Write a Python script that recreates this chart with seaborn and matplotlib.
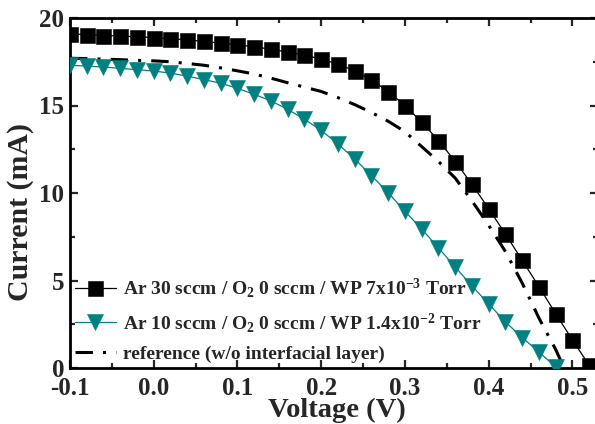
import numpy as np
import pandas as pd
import matplotlib
matplotlib.use("Agg")
import matplotlib.pyplot as plt
from matplotlib.ticker import MultipleLocator, FormatStrFormatter
import seaborn as sns

# Bias voltage (V)
v_ar30 = [-0.10, -0.08, -0.06, -0.04, -0.02, 0.00, 0.02, 0.04, 0.06, 0.08,
          0.10, 0.12, 0.14, 0.16, 0.18, 0.20, 0.22, 0.24, 0.26, 0.28,
          0.30, 0.32, 0.34, 0.36, 0.38, 0.40, 0.42, 0.44, 0.46, 0.48,
          0.50, 0.52]
i_ar30 = [19.10, 19.05, 19.00, 18.97, 18.93, 18.88, 18.82, 18.75, 18.66, 18.57,
          18.47, 18.35, 18.22, 18.05, 17.88, 17.65, 17.37, 16.98, 16.45, 15.80,
          15.00, 14.05, 13.00, 11.80, 10.50, 9.10, 7.65, 6.15, 4.65, 3.10,
          1.60, 0.15]

v_ar10 = [-0.10, -0.08, -0.06, -0.04, -0.02, 0.00, 0.02, 0.04, 0.06, 0.08,
          0.10, 0.12, 0.14, 0.16, 0.18, 0.20, 0.22, 0.24, 0.26, 0.28,
          0.30, 0.32, 0.34, 0.36, 0.38, 0.40, 0.42, 0.44, 0.46, 0.48]
i_ar10 = [17.30, 17.25, 17.20, 17.12, 17.05, 16.97, 16.85, 16.68, 16.48, 16.27,
          15.98, 15.64, 15.26, 14.78, 14.21, 13.58, 12.80, 11.94, 10.99, 10.02,
          8.95, 7.94, 6.86, 5.77, 4.69, 3.66, 2.63, 1.74, 0.91, 0.06]

v_ref = [-0.10, -0.08, -0.06, -0.04, -0.02, 0.00, 0.02, 0.04, 0.06, 0.08,
         0.10, 0.12, 0.14, 0.16, 0.18, 0.20, 0.22, 0.24, 0.26, 0.28,
         0.30, 0.32, 0.34, 0.36, 0.38, 0.40, 0.42, 0.44, 0.46, 0.48, 0.49]
i_ref = [17.70, 17.68, 17.65, 17.62, 17.58, 17.55, 17.50, 17.40, 17.30, 17.15,
         16.98, 16.80, 16.56, 16.30, 16.05, 15.80, 15.45, 15.05, 14.60, 14.10,
         13.50, 12.65, 11.80, 10.85, 9.55, 8.15, 6.65, 4.85, 2.85, 1.05, 0.00]

labels = [
    "Ar 30 sccm / O$_2$ 0 sccm / WP 7x10$^{-3}$ Torr",
    "Ar 10 sccm / O$_2$ 0 sccm / WP 1.4x10$^{-2}$ Torr",
    "reference (w/o interfacial layer)",
]

TEAL = "#008080"

sns.set_theme(style="ticks")
plt.rcParams.update({
    "font.family": ["Liberation Serif", "DejaVu Serif"],
    "font.weight": "bold",
    "axes.labelweight": "bold",
    "mathtext.fontset": "custom",
    "mathtext.rm": "Liberation Serif:bold",
    "mathtext.it": "Liberation Serif:italic:bold",
    "mathtext.bf": "Liberation Serif:bold",
    "axes.unicode_minus": False,
})

df30 = pd.DataFrame({"V": v_ar30, "I": i_ar30})
df10 = pd.DataFrame({"V": v_ar10, "I": i_ar10})
dfref = pd.DataFrame({"V": v_ref, "I": i_ref})

fig = plt.figure(figsize=(5.95, 4.24), dpi=100)
ax = fig.add_axes([70 / 595, (424 - 368) / 424, 527.6 / 595, 350 / 424])

sns.lineplot(data=df30, x="V", y="I", ax=ax, color="black", linewidth=0.9,
             marker="s", markersize=10.8, markeredgecolor="black",
             markeredgewidth=0.4, label=labels[0], zorder=3)
sns.lineplot(data=df10, x="V", y="I", ax=ax, color=TEAL, linewidth=0.9,
             marker="v", markersize=12, markeredgecolor=TEAL,
             markeredgewidth=0.4, label=labels[1], zorder=3)
sns.lineplot(data=dfref, x="V", y="I", ax=ax, color="black", linewidth=2.2,
             label=labels[2], zorder=2)
ax.lines[-1].set_dashes((5.7, 3.3, 1.0, 3.3))

ax.set_xlim(-0.1, 0.53)
ax.set_ylim(0, 20)
ax.xaxis.set_major_locator(MultipleLocator(0.1))
ax.xaxis.set_minor_locator(MultipleLocator(0.05))
ax.xaxis.set_major_formatter(FormatStrFormatter("%.1f"))
ax.yaxis.set_major_locator(MultipleLocator(5))
ax.yaxis.set_minor_locator(MultipleLocator(2.5))

ax.tick_params(which="both", direction="in", top=True, right=True,
               labelsize=18, width=1.6)
ax.tick_params(axis="x", pad=6.5)
ax.tick_params(axis="y", pad=4)
ax.tick_params(which="major", length=6)
ax.tick_params(which="minor", length=3.5)
for lab in ax.get_xticklabels() + ax.get_yticklabels():
    lab.set_fontweight("bold")
for sp in ax.spines.values():
    sp.set_linewidth(2.0)
    sp.set_color("black")

ax.set_xlabel("Voltage (V)", fontsize=20.5, fontweight="bold")
ax.set_ylabel("Current (mA)", fontsize=21.5, fontweight="bold")
ax.xaxis.set_label_coords((337 - 70) / 527.6, -0.084)
ax.yaxis.set_label_coords((34 - 70) / 527.6, 0.446)

leg = ax.legend(loc="lower left", bbox_to_anchor=(0.0, 0.0), frameon=False,
                handlelength=2.1, handletextpad=0.4,
                borderaxespad=0.15, borderpad=0.1, labelspacing=0.55,
                prop={"weight": "bold", "size": 14})

fig.savefig("out.png", dpi=100)
